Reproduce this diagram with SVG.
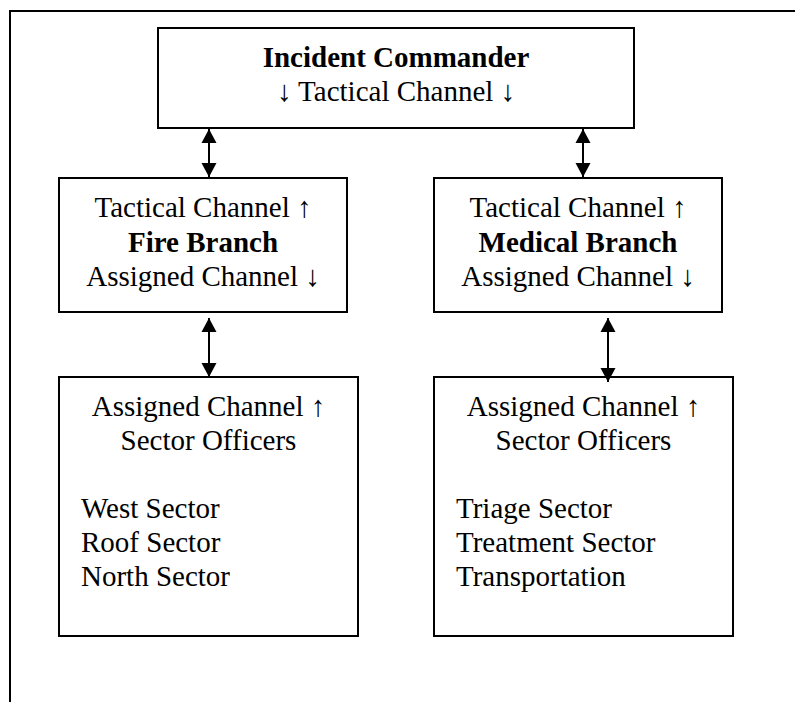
<svg xmlns="http://www.w3.org/2000/svg" width="795" height="702" viewBox="0 0 795 702">
<style>
.box{fill:#fff;stroke:#000;stroke-width:2}
.frame{fill:none;stroke:#000;stroke-width:2}
text{font-family:"Liberation Serif","Times New Roman",serif;font-size:29px;fill:#000}
.c{text-anchor:middle}
.b{font-weight:bold}
.conn{stroke:#000;stroke-width:2;fill:none}
</style>
<defs>
<marker id="ah" markerUnits="userSpaceOnUse" markerWidth="16" markerHeight="16" viewBox="0 0 16 16" refX="15" refY="8" orient="auto-start-reverse">
<path d="M1,0.5 L15,8 L1,15.5 Z" fill="#000"/>
</marker>
</defs>
<rect width="795" height="702" fill="#fff"/>
<path class="frame" d="M10,702 V11 H795"/>
<g id="incident-commander">
<rect class="box" x="158" y="28" width="476" height="100"/>
<text class="c b" x="396" y="67">Incident Commander</text>
<text class="c" x="396" y="101">↓ Tactical Channel ↓</text>
</g>
<g id="fire-branch">
<rect class="box" x="59" y="178" width="288" height="134"/>
<text class="c" x="203" y="217">Tactical Channel ↑</text>
<text class="c b" x="203" y="252">Fire Branch</text>
<text class="c" x="203" y="286">Assigned Channel ↓</text>
</g>
<g id="medical-branch">
<rect class="box" x="434" y="178" width="288" height="134"/>
<text class="c" x="578" y="217">Tactical Channel ↑</text>
<text class="c b" x="578" y="252">Medical Branch</text>
<text class="c" x="578" y="286">Assigned Channel ↓</text>
</g>
<g id="fire-sectors">
<rect class="box" x="59" y="377" width="299" height="259"/>
<text class="c" x="208.5" y="416">Assigned Channel ↑</text>
<text class="c" x="208.5" y="450">Sector Officers</text>
<text x="81" y="518">West Sector</text>
<text x="81" y="552">Roof Sector</text>
<text x="81" y="586">North Sector</text>
</g>
<g id="medical-sectors">
<rect class="box" x="434" y="377" width="299" height="259"/>
<text class="c" x="583.5" y="416">Assigned Channel ↑</text>
<text class="c" x="583.5" y="450">Sector Officers</text>
<text x="456" y="518">Triage Sector</text>
<text x="456" y="552">Treatment Sector</text>
<text x="456" y="586">Transportation</text>
</g>
<g id="connectors">
<line class="conn" x1="209" y1="129" x2="209" y2="177" marker-start="url(#ah)" marker-end="url(#ah)"/>
<line class="conn" x1="583" y1="129" x2="583" y2="177" marker-start="url(#ah)" marker-end="url(#ah)"/>
<line class="conn" x1="209" y1="318" x2="209" y2="377" marker-start="url(#ah)" marker-end="url(#ah)"/>
<line class="conn" x1="608" y1="318" x2="608" y2="382" marker-start="url(#ah)" marker-end="url(#ah)"/>
</g>
</svg>
